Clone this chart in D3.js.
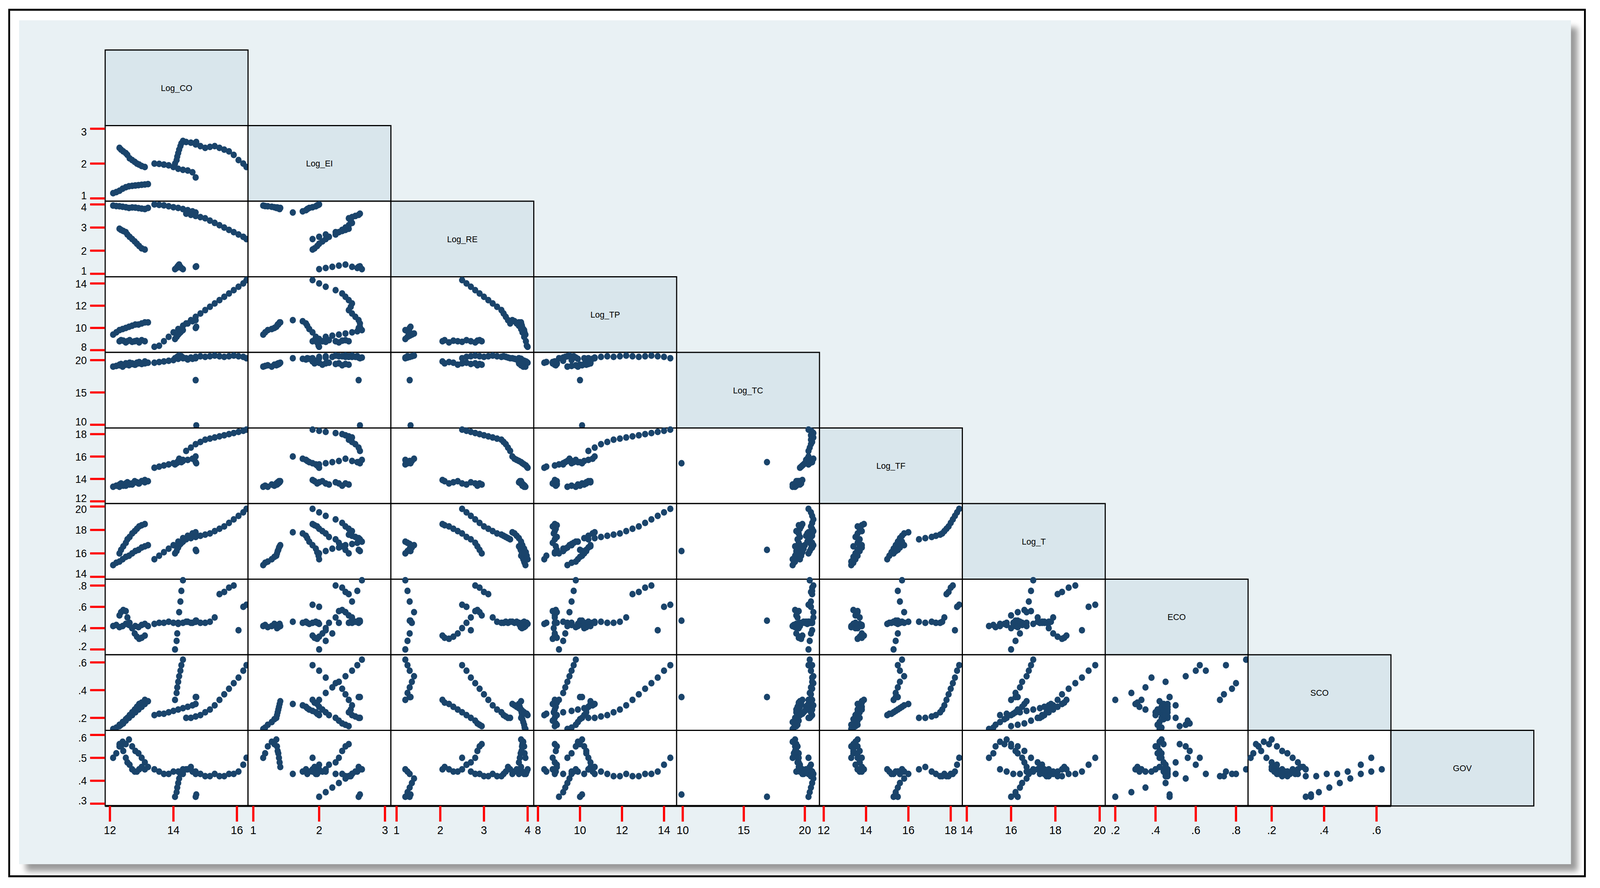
<!DOCTYPE html>
<html><head><meta charset="utf-8">
<script src="https://cdn.jsdelivr.net/npm/d3@7"></script>
<style>html,body{margin:0;padding:0;background:#fff;overflow:hidden;width:100vw;height:100vh}svg{display:block;width:100vw;height:100vh}text{font-family:"Liberation Sans",Arial,sans-serif}</style>
</head><body>
<script>
const varNames = ["Log_CO","Log_EI","Log_RE","Log_TP","Log_TC","Log_TF","Log_T","ECO","SCO","GOV"];
const domains = [[11.85,16.35],[0.92,3.09],[0.87,4.14],[7.8,14.6],[9.5,21.2],[11.8,18.55],[13.8,20.25],[0.15,0.86],[0.11,0.655],[0.29,0.62]];
const tickVals = [[12,14,16],[1,2,3],[1,2,3,4],[8,10,12,14],[10,15,20],[12,14,16,18],[14,16,18,20],[0.2,0.4,0.6,0.8],[0.2,0.4,0.6],[0.3,0.4,0.5,0.6]];
const tickLabels = [["12","14","16"],["1","2","3"],["1","2","3","4"],["8","10","12","14"],["10","15","20"],["12","14","16","18"],["14","16","18","20"],[".2",".4",".6",".8"],[".2",".4",".6"],[".3",".4",".5",".6"]];

const Log_CO=[12.10,12.20,12.30,12.40,12.50,12.60,12.70,12.80,12.90,13.00,13.10,13.20, 12.30,12.35,12.42,12.50,12.55,12.62,12.70,12.78,12.85,12.92,13.00,13.10, 13.40,13.55,13.70,13.85,14.00,14.15,14.30,14.45,14.60,14.70, 14.05,14.10,14.12,14.15,14.18,14.22,14.25,14.30, 14.40,14.55,14.70,14.85,15.00,15.15,15.30,15.45,15.60,15.75,15.90,16.05,16.20,16.30, 14.70,14.72];
const Log_EI=[1.15,1.18,1.22,1.28,1.32,1.35,1.36,1.37,1.38,1.39,1.40,1.41, 2.45,2.40,2.35,2.30,2.25,2.15,2.10,2.05,2.00,1.97,1.93,1.90, 2.00,1.99,1.97,1.95,1.90,1.85,1.82,1.80,1.75,1.60, 2.00,2.10,2.20,2.30,2.40,2.50,2.58,2.65, 2.62,2.60,2.55,2.50,2.45,2.48,2.50,2.45,2.40,2.35,2.25,2.10,2.00,1.90, 2.60,2.62];
const Log_RE=[3.95,3.93,3.92,3.90,3.88,3.85,3.87,3.86,3.84,3.82,3.80,3.85, 2.95,2.90,2.85,2.80,2.70,2.60,2.50,2.40,2.30,2.20,2.10,2.05, 4.00,3.98,3.96,3.92,3.88,3.85,3.80,3.75,3.70,3.65, 1.20,1.25,1.30,1.35,1.40,1.30,1.25,1.20, 3.60,3.55,3.50,3.45,3.40,3.30,3.20,3.10,3.00,2.90,2.80,2.70,2.60,2.50, 1.30,1.32];
const Log_TP=[9.40,9.60,9.80,9.90,10.0,10.1,10.2,10.3,10.3,10.4,10.5,10.5, 8.80,8.90,8.85,8.70,8.80,8.90,8.75,8.80,8.85,8.70,8.90,8.80, 8.30,8.40,8.80,9.20,9.60,9.90,10.2,10.4,10.6,10.7, 9.00,9.20,9.30,9.40,9.50,9.60,9.70,9.80, 10.4,10.7,11.0,11.3,11.6,11.9,12.2,12.5,12.8,13.1,13.4,13.7,14.0,14.3, 10.0,10.1];
const Log_TC=[19.0,19.1,19.2,19.0,19.3,19.2,19.4,19.3,19.5,19.4,19.5,19.6, 19.3,19.4,19.2,19.5,19.4,19.6,19.5,19.3,19.6,19.7,19.5,19.8, 19.6,19.7,19.8,19.9,20.0,20.2,20.3,20.1,20.2,20.3, 20.3,20.4,20.5,20.6,20.7,20.5,20.6,20.4, 20.3,20.4,20.5,20.6,20.5,20.6,20.7,20.6,20.5,20.6,20.7,20.6,20.5,20.3, 16.9,9.9];
const Log_TF=[13.3,13.4,13.3,13.5,13.4,13.6,13.5,13.7,13.6,13.8,13.7,13.8, 13.5,13.6,13.4,13.6,13.7,13.5,13.6,13.8,13.7,13.6,13.8,13.9, 15.0,15.1,15.2,15.3,15.4,15.5,15.6,15.7,15.8,16.0, 15.3,15.4,15.5,15.6,15.8,15.6,15.5,15.7, 16.5,16.8,17.1,17.3,17.5,17.6,17.7,17.8,17.9,18.0,18.1,18.2,18.3,18.4, 15.5,15.4];
const Log_T=[15.0,15.2,15.3,15.5,15.7,15.8,16.0,16.2,16.3,16.5,16.6,16.7, 16.0,16.3,16.6,16.9,17.2,17.4,17.7,17.9,18.1,18.3,18.4,18.5, 15.5,15.8,16.1,16.4,16.7,17.0,17.3,17.5,17.7,17.8, 16.0,16.2,16.4,16.5,16.7,16.8,16.9,17.0, 17.2,17.3,17.4,17.5,17.6,17.7,17.9,18.1,18.3,18.6,18.9,19.2,19.5,19.8, 16.3,16.2];
const ECO=[.42,.43,.41,.42,.44,.43,.40,.42,.41,.43,.44,.42, .52,.55,.57,.56,.50,.45,.40,.35,.32,.30,.31,.33, .44,.45,.45,.46,.45,.44,.45,.46,.45,.46, .20,.28,.35,.45,.55,.65,.75,.85, .46,.45,.46,.45,.45,.46,.50,.72,.74,.78,.80,.38,.60,.62, .47,.47];
const SCO=[.12,.13,.15,.17,.19,.20,.22,.24,.26,.28,.30,.32, .14,.15,.16,.18,.20,.22,.24,.26,.28,.30,.31,.33, .22,.23,.23,.24,.25,.26,.27,.28,.29,.30, .33,.38,.42,.46,.50,.54,.58,.62, .20,.20,.21,.22,.24,.26,.29,.33,.37,.41,.45,.49,.54,.58, .35,.35];
const GOV=[.50,.52,.55,.57,.56,.58,.55,.53,.52,.50,.48,.46, .56,.55,.53,.50,.48,.47,.45,.44,.44,.45,.46,.45, .45,.44,.43,.43,.44,.44,.43,.45,.44,.43, .33,.35,.37,.39,.41,.43,.44,.45, .45,.46,.44,.43,.42,.42,.43,.42,.42,.43,.43,.44,.47,.50, .33,.34];
const series=[Log_CO,Log_EI,Log_RE,Log_TP,Log_TC,Log_TF,Log_T,ECO,SCO,GOV];

const W=4351,H=2273;
const svg=d3.select("body").append("svg").attr("viewBox",`0 0 ${W} ${H}`).attr("preserveAspectRatio","none");
const defs=svg.append("defs");
const f=defs.append("filter").attr("id","sh").attr("x","-5%").attr("y","-5%").attr("width","110%").attr("height","110%");
f.append("feGaussianBlur").attr("stdDeviation",8);
svg.append("rect").attr("x",0).attr("y",0).attr("width",W).attr("height",H).attr("fill","#fff");
svg.append("rect").attr("x",25).attr("y",25).attr("width",4285).attr("height",2218).attr("fill","#fff").attr("stroke","#000").attr("stroke-width",5);
svg.append("rect").attr("x",70).attr("y",70).attr("width",4220).attr("height",2160).attr("fill","#999").attr("filter","url(#sh)");
svg.append("rect").attr("x",52).attr("y",52).attr("width",4220).attr("height",2160).attr("fill","#e9f1f4");

const gx=286,gy=128,cw=388.5,ch=193.5,n=10;
const xs=domains.map((d,j)=>d3.scaleLinear().domain(d).range([gx+j*cw,gx+(j+1)*cw]));
const ys=domains.map((d,i)=>d3.scaleLinear().domain(d).range([gy+(i+1)*ch,gy+i*ch]));

for(let i=0;i<n;i++){
  for(let j=0;j<=i;j++){
    const x0=gx+j*cw,y0=gy+i*ch;
    if(i===j){
      svg.append("rect").attr("x",x0).attr("y",y0).attr("width",cw).attr("height",ch).attr("fill","#d9e6ec").attr("stroke","#000").attr("stroke-width",3);
      svg.append("text").attr("x",x0+cw/2).attr("y",y0+ch/2+8).attr("text-anchor","middle").attr("font-size",23).text(varNames[i]);
    } else {
      svg.append("rect").attr("x",x0).attr("y",y0).attr("width",cw).attr("height",ch).attr("fill","#fff").attr("stroke","#000").attr("stroke-width",3);
      const pts=d3.range(series[0].length);
      svg.append("g").selectAll("circle").data(pts).join("circle")
        .attr("cx",k=>xs[j](series[j][k])).attr("cy",k=>ys[i](series[i][k])).attr("r",8.5).attr("fill","#1a446b");
    }
  }
}
for(let i=1;i<n;i++){
  const g=svg.append("g");
  const top=gy+i*ch,bot=gy+(i+1)*ch;
  tickVals[i].forEach((v,t)=>{
    const y=ys[i](v);
    g.append("rect").attr("x",245).attr("y",y-2.75).attr("width",40).attr("height",5.5).attr("fill","#f00");
    let ly=y+10;
    if(bot-y<14) ly=y+2;
    if(y-top<14) ly=Math.max(ly,y+17);
    g.append("text").attr("x",236).attr("y",ly).attr("text-anchor","end").attr("font-size",28).text(tickLabels[i][t]);
  });
}
const by=gy+n*ch;
svg.append("line").attr("x1",gx).attr("x2",gx+9*cw).attr("y1",by).attr("y2",by).attr("stroke","#000").attr("stroke-width",5);
for(let j=0;j<n-1;j++){
  tickVals[j].forEach((v,t)=>{
    const x=xs[j](v);
    svg.append("rect").attr("x",x-3).attr("y",by).attr("width",6).attr("height",40).attr("fill","#f00");
    svg.append("text").attr("x",x).attr("y",by+72).attr("text-anchor","middle").attr("font-size",30).text(tickLabels[j][t]);
  });
}
</script>
</body></html>
